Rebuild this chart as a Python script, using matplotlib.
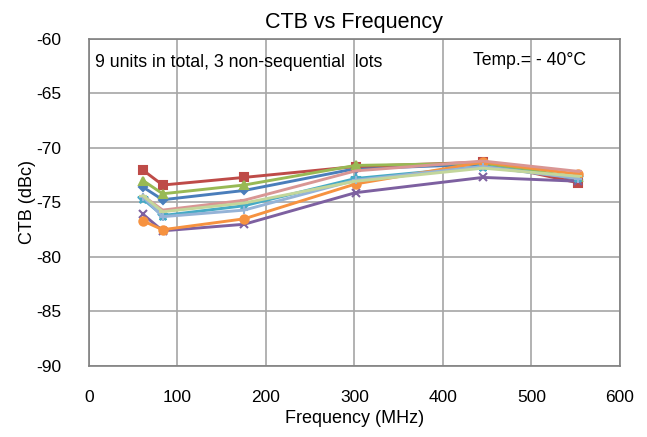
import matplotlib.pyplot as plt

plt.rcParams['font.family'] = ['Liberation Sans', 'DejaVu Sans']
plt.rcParams['axes.unicode_minus'] = False

# frequencies (MHz) measured
freq = [61.25, 83.25, 175.25, 301.25, 445.25, 553.25]

# CTB (dBc) per unit
unit1 = [-73.6, -74.75, -73.9, -71.9, -71.5, -72.9]
unit2 = [-72.05, -73.4, -72.7, -71.7, -71.3, -73.2]
unit3 = [-73.0, -74.2, -73.4, -71.6, -71.4, -72.7]
unit4 = [-76.1, -77.6, -77.0, -74.1, -72.7, -73.05]
unit5 = [-74.7, -76.2, -75.3, -72.8, -71.7, -72.75]
unit6 = [-76.7, -77.5, -76.5, -73.3, -71.3, -72.4]
unit7 = [-74.5, -76.3, -75.7, -72.95, -71.7, -72.8]
unit8 = [-74.4, -75.7, -74.8, -72.1, -71.2, -72.15]
unit9 = [-74.4, -75.85, -75.05, -73.05, -71.85, -72.6]

units = [unit1, unit2, unit3, unit4, unit5, unit6, unit7, unit8, unit9]
colors = ['#4A7EBB', '#BE4B48', '#98B954', '#7D60A0', '#46AAC5',
          '#F69240', '#95B3D7', '#D99694', '#C3D69B']
markers = ['D', 's', '^', 'x', '*', 'o', '+', '_', '_']
msizes = [4.5, 6, 6, 6, 7, 6, 6, 6, 6]

fig = plt.figure(figsize=(6.47, 4.37), dpi=100)
ax = fig.add_axes([0.1376, 0.1625, 0.8204, 0.7483])

for vals, c, m, ms in zip(units, colors, markers, msizes):
    ax.plot(freq, vals, color=c, linewidth=2.1, marker=m, markersize=ms,
            markeredgecolor=c, markerfacecolor=c, markeredgewidth=1.5)

ax.set_xlim(0, 600)
ax.set_ylim(-90, -60)
ax.set_xticks(range(0, 601, 100))
ax.set_yticks(range(-90, -59, 5))
ax.grid(True, color='#A6A6A6', linewidth=1.2)
ax.set_axisbelow(True)
for sp in ax.spines.values():
    sp.set_color('#808080')
    sp.set_linewidth(1.2)
ax.tick_params(length=0, labelsize=12.5)
ax.tick_params(axis='x', pad=17)
ax.tick_params(axis='y', pad=20)

ax.set_title("CTB vs Frequency", fontsize=15.5, pad=8)
ax.set_xlabel("Frequency (MHz)", fontsize=13, labelpad=4)
ax.set_ylabel("CTB (dBc)", fontsize=13, labelpad=0)

ax.text(0.012, 0.927, "9 units in total, 3 non-sequential  lots",
        transform=ax.transAxes, fontsize=12.8, va='center', ha='left')
ax.text(0.723, 0.935, "Temp.= - 40°C",
        transform=ax.transAxes, fontsize=12.7, va='center', ha='left')

fig.savefig("out.png", dpi=100)
